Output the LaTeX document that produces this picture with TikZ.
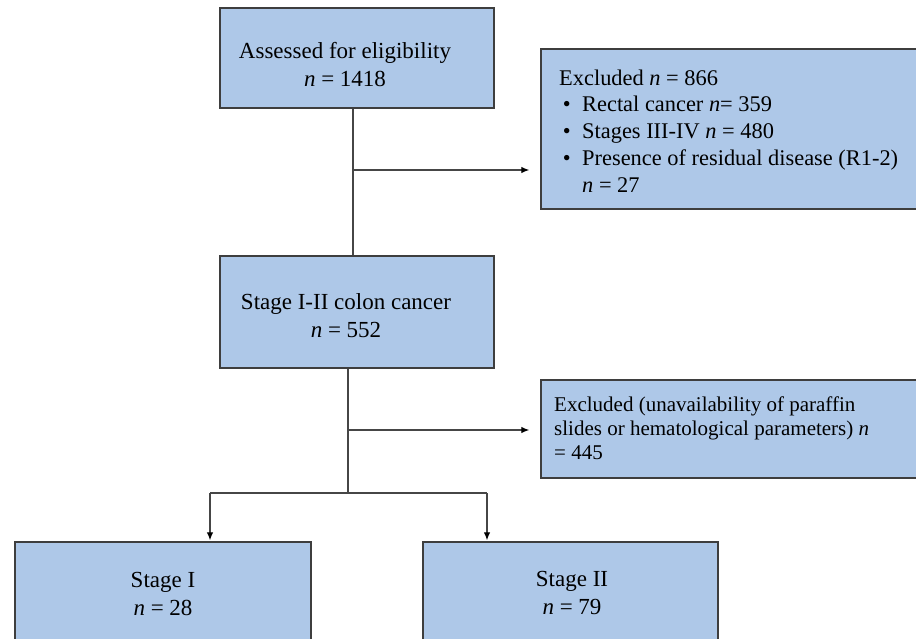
\documentclass[tikz,border=0pt]{standalone}
\usepackage{fontspec}
\setmainfont{Liberation Serif}
\usepackage{tikz}
\usetikzlibrary{arrows.meta}
\usetikzlibrary{positioning}
\usepackage{xcolor}
\definecolor{boxfill}{RGB}{174,200,232}
\definecolor{boxline}{RGB}{62,62,62}
\definecolor{wire}{RGB}{70,70,70}

\begin{document}
\begin{tikzpicture}[x=1pt,y=-1pt]
		\tikzstyle{box} = [draw=boxline, line width=1.5pt, fill=boxfill, rectangle, inner sep=0pt]
		\tikzstyle{txt} = [draw=none, fill=none, align=center, inner sep=0pt, font=\fontsize{23}{28}\selectfont]
		\tikzstyle{ltxt} = [txt, align=left, anchor=west]
		\tikzstyle{wire} = [draw=wire, line width=1.1pt]
		\tikzstyle{tip} = [wire, -{Latex[length=8pt,width=6.5pt,black]}]
		\useasboundingbox (0,0) rectangle (916,639);
		\clip (0,0) rectangle (916,639);

		% boxes
		\node[box, minimum width=274, minimum height=100] (elig) at (357,58) {};
		\node[box, minimum width=389, minimum height=160] (excl1) at (735.5,129) {};
		\node[box, minimum width=274, minimum height=112] (stage12) at (357,312) {};
		\node[box, minimum width=389, minimum height=98] (excl2) at (735.5,429) {};
		\node[box, minimum width=296, minimum height=140] (st1) at (163,612) {};
		\node[box, minimum width=295, minimum height=140] (st2) at (570.5,612) {};

		% texts
		\node[txt] (elig-t) at (345,65) {Assessed for eligibility\\ \textit{n} = 1418};
		\node[ltxt, font=\fontsize{22.4}{26.8}\selectfont] (excl1-t) at (559,131) {Excluded \textit{n} = 866\\
			\makebox[23pt][l]{\,\textbullet}Rectal cancer \textit{n}= 359\\
			\makebox[23pt][l]{\,\textbullet}Stages III-IV \textit{n} = 480\\
			\makebox[23pt][l]{\,\textbullet}Presence of residual disease (R1-2)\\
			\makebox[23pt][l]{}\textit{n} = 27};
		\node[txt] (stage12-t) at (346,316) {Stage I-II colon cancer\\ \textit{n} = 552};
		\node[ltxt, font=\fontsize{21}{24}\selectfont] (excl2-t) at (554,428) {Excluded (unavailability of paraffin\\
			slides or hematological parameters) \textit{n}\\ = 445};
		\node[txt] (st1-t) at (163,594) {Stage I\\ \textit{n} = 28};
		\node[txt] (st2-t) at (572,593) {Stage II\\ \textit{n} = 79};

		% connectors
		\coordinate (j1) at (353,170);
		\coordinate (j2) at (348,430);
		\coordinate (sl) at (210,493);
		\coordinate (sr) at (487,493);

		\draw [wire] (j1 |- elig.south) -- (j1 |- stage12.north);
		\draw [tip, shorten >=11pt] (j1) -- (excl1.west |- j1);

		\draw [wire] (j2 |- stage12.south) -- (j2 |- sl);
		\draw [tip, shorten >=11pt] (j2) -- (excl2.west |- j2);

		\draw [wire] (sl) -- (sr);
		\draw [tip, shorten >=1pt] (sl) -- (sl |- st1.north);
		\draw [tip, shorten >=1pt] (sr) -- (sr |- st2.north);

\end{tikzpicture}
\end{document}
